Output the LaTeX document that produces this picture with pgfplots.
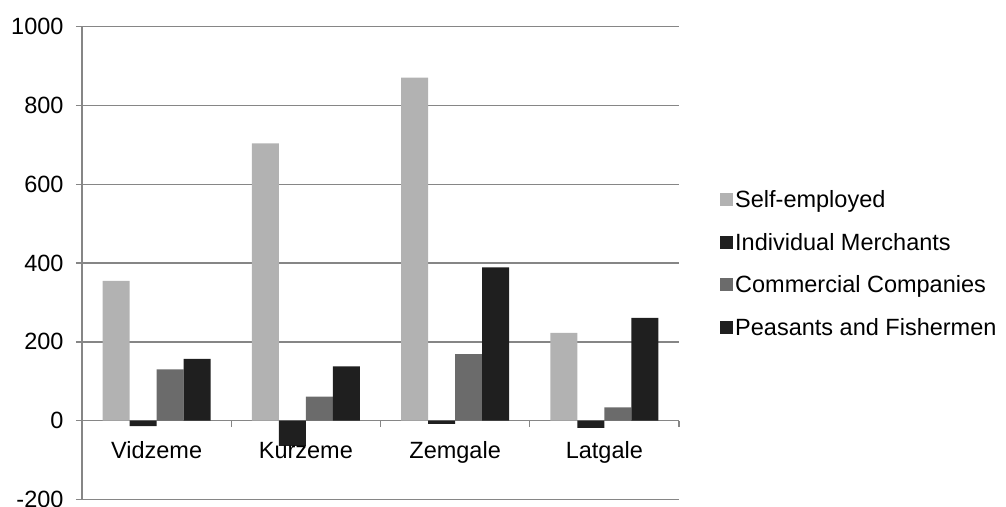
\documentclass[border=0pt]{standalone}
\usepackage{fontspec}
\setmainfont{Liberation Sans}
\usepackage{pgfplots}
\pgfplotsset{compat=1.18}

\definecolor{selfemp}{HTML}{B2B2B2}
\definecolor{indiv}{HTML}{1F1F1F}
\definecolor{comm}{HTML}{6B6B6B}
\definecolor{peas}{HTML}{1F1F1F}
\definecolor{gridc}{HTML}{868686}

\tikzset{catlabel/.style={anchor=north, inner sep=0pt, yshift=-20pt,
    text height=17.6pt, text depth=5pt, font=\fontsize{23.5}{28}\selectfont}}

\begin{document}
\begin{tikzpicture}[x=1pt,y=1pt]
\useasboundingbox (-82,-6.5) rectangle (924,499.5);
\begin{axis}[
    at={(0,0)}, anchor=south west,
    scale only axis,
    width=597pt, height=472.8pt,
    xmin=0.5, xmax=4.5,
    ymin=-200, ymax=1000,
    ytick={-200,0,200,400,600,800,1000},
    axis x line=middle, axis y line=left,
    axis line style={-, draw=gridc, line width=1.3pt},
    ymajorgrids,
    grid style={draw=gridc, line width=1.3pt},
    tick align=outside,
    major tick length=6pt,
    tick style={draw=gridc, line width=1.3pt},
    xtick={0.5,1.5,2.5,3.5,4.5},
    xticklabels={},
    tick label style={font=\fontsize{23.5}{28}\selectfont},
    yticklabel style={xshift=-9pt},
    /pgf/number format/assume math mode=true,
    /pgf/number format/1000 sep={},
    ybar=0pt, bar width=27pt,
    legend style={draw=none, fill=none, at={(1.0687,0.499)}, anchor=west,
        font=\fontsize{23.5}{28}\selectfont, row sep=20pt, inner sep=0pt},
    legend cell align=left,
    legend image code/.code={\fill[#1] (0pt,-6.5pt) rectangle (13pt,6.5pt);},
]
\addplot[fill=selfemp, draw=none] coordinates {(1,355) (2,704) (3,871) (4,223)};
\addplot[fill=indiv, draw=none] coordinates {(1,-14) (2,-64) (3,-8) (4,-18)};
\addplot[fill=comm, draw=none] coordinates {(1,130) (2,61) (3,169) (4,34)};
\addplot[fill=peas, draw=none] coordinates {(1,157) (2,138) (3,389) (4,261)};
\legend{Self-employed, Individual Merchants, Commercial Companies, Peasants and Fishermen}
% category names, drawn after the bars so they sit on top
\node[catlabel] at (axis cs:1,0) {Vidzeme};
\node[catlabel] at (axis cs:2,0) {Kurzeme};
\node[catlabel] at (axis cs:3,0) {Zemgale};
\node[catlabel] at (axis cs:4,0) {Latgale};
\end{axis}
\end{tikzpicture}
\end{document}
